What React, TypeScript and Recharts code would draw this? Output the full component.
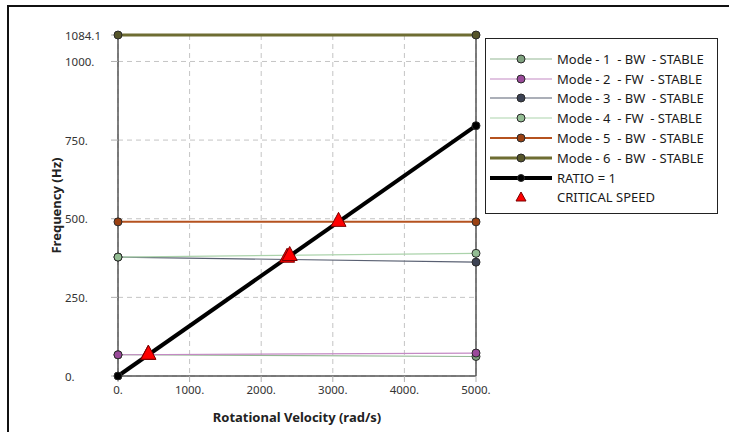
import React from "react";
import {
  ComposedChart,
  Line,
  Scatter,
  XAxis,
  YAxis,
  CartesianGrid,
  ReferenceLine,
} from "recharts";

// rotational speed end points (rad/s)
const speeds = [0, 5000];

// frequency of each mode at the end points (Hz)
const mode1 = [67.5, 62];
const mode2 = [67.5, 73];
const mode3 = [378, 362];
const mode4 = [378, 390];
const mode5 = [490, 490];
const mode6 = [1084.1, 1084.1];
const ratio1 = [0, 795.8];

// critical speed points
const criticalSpeed = [421, 425, 2362, 2398, 3080];
const criticalFreq = [67, 67.6, 376, 381.5, 490];

const xTicks = [0, 1000, 2000, 3000, 4000, 5000];
const yTicks = [0, 250, 500, 750, 1000, 1084.1];

const FONT = "'Noto Sans', sans-serif";

const toPoints = (vals: number[]) => speeds.map((x, i) => ({ x, y: vals[i] }));

const series = [
  { name: "Mode - 1  - BW  - STABLE", data: toPoints(mode1), color: "#93b793", dot: "#7fa27f", width: 1.2 },
  { name: "Mode - 2  - FW  - STABLE", data: toPoints(mode2), color: "#c48ac4", dot: "#9a4a9a", width: 1.2 },
  { name: "Mode - 3  - BW  - STABLE", data: toPoints(mode3), color: "#596072", dot: "#3c4254", width: 1.2 },
  { name: "Mode - 4  - FW  - STABLE", data: toPoints(mode4), color: "#abd3ab", dot: "#93bd93", width: 1.2 },
  { name: "Mode - 5  - BW  - STABLE", data: toPoints(mode5), color: "#b5521f", dot: "#9a4012", width: 2 },
  { name: "Mode - 6  - BW  - STABLE", data: toPoints(mode6), color: "#6e6d32", dot: "#56552a", width: 3 },
  { name: "RATIO = 1", data: toPoints(ratio1), color: "#000000", dot: "#000000", width: 4 },
];

const critical = criticalSpeed.map((x, i) => ({ x, y: criticalFreq[i] }));

const makeDot = (fill: string) => (props: any) => {
  const { cx, cy, index } = props;
  return <circle key={`d-${index}`} cx={cx} cy={cy} r={4} fill={fill} stroke="#2a2a2a" strokeWidth={1} />;
};

const Triangle = (props: any) => {
  const { cx, cy } = props;
  const pts = `${cx},${cy - 9.5} ${cx - 7.5},${cy + 4.5} ${cx + 7.5},${cy + 4.5}`;
  return <polygon points={pts} fill="#ff0000" stroke="#7a0000" strokeWidth={1} />;
};

const fmt = (v: number) => (v === 1084.1 ? "1084.1" : `${v}.`);

const YTick = (props: any) => {
  const { y, payload } = props;
  return (
    <text x={65} y={y} textAnchor="start" dominantBaseline="central" fontSize={11.5} fill="#333" fontFamily={FONT}>
      {fmt(payload.value)}
    </text>
  );
};

// legend drawn as a plain box on top of the chart
const LegendBox = () => (
  <div
    style={{
      position: "absolute",
      left: 485,
      top: 38,
      border: "1px solid #222",
      width: 231,
      padding: "10px 0 6px 0",
      background: "#fff",
      fontFamily: FONT,
      fontSize: 13,
      color: "#1a1a1a",
    }}
  >
    {series.map((s) => (
      <div key={s.name} style={{ display: "flex", alignItems: "center", height: 19.8 }}>
        <svg width={67} height={12} style={{ marginLeft: 4, flexShrink: 0 }}>
          <line x1={0} y1={6} x2={62} y2={6} stroke={s.color} strokeWidth={s.width} />
          <circle cx={31} cy={6} r={s.width >= 4 ? 3.5 : 4} fill={s.dot} stroke="#2a2a2a" strokeWidth={1} />
        </svg>
        <span style={{ whiteSpace: "pre" }}>{s.name}</span>
      </div>
    ))}
    <div style={{ display: "flex", alignItems: "center", height: 19.8 }}>
      <svg width={67} height={12} style={{ marginLeft: 4, flexShrink: 0 }}>
        <polygon points="31,1 26,10 36,10" fill="#ff0000" stroke="#7a0000" strokeWidth={1} />
      </svg>
      <span>CRITICAL SPEED</span>
    </div>
  </div>
);

export default function App() {
  return (
    <div style={{ position: "absolute", left: 0, top: 0, width: 743, height: 432, background: "#fff" }}>
      <ComposedChart
        width={743}
        height={432}
        margin={{ top: 35, right: 267, bottom: 26, left: 58 }}
      >
        <CartesianGrid stroke="#c4c4c4" strokeDasharray="5 4" />
        <XAxis
          type="number"
          dataKey="x"
          domain={[0, 5000]}
          ticks={xTicks}
          interval={0}
          tickFormatter={(v: number) => `${v}.`}
          tick={{ fontSize: 11.5, fill: "#333", fontFamily: FONT, dy: 2 }}
          tickLine={{ stroke: "#b0b0b0" }}
          tickSize={6}
          axisLine={{ stroke: "#555", strokeWidth: 1.5 }}
          height={30}
          label={{
            value: "Rotational Velocity (rad/s)",
            position: "insideBottom",
            offset: -16,
            style: { fontSize: 13, fontWeight: "bold", fill: "#222", fontFamily: FONT },
          }}
        />
        <YAxis
          type="number"
          dataKey="y"
          domain={[0, 1084.1]}
          ticks={yTicks}
          interval={0}
          tick={<YTick />}
          tickLine={{ stroke: "#b0b0b0" }}
          tickSize={7}
          axisLine={{ stroke: "#555", strokeWidth: 1.5 }}
          width={60}
          label={{
            value: "Frequency (Hz)",
            angle: -90,
            position: "insideLeft",
            offset: -2,
            style: { fontSize: 13, fontWeight: "bold", fill: "#222", fontFamily: FONT, textAnchor: "middle" },
          }}
        />
        <ReferenceLine x={5000} stroke="#555" strokeWidth={1.5} />
        {series.map((s) => (
          <Line
            key={s.name}
            data={s.data}
            dataKey="y"
            type="linear"
            stroke={s.color}
            strokeWidth={s.width}
            dot={makeDot(s.dot)}
            activeDot={false}
            isAnimationActive={false}
          />
        ))}
        <Scatter
          name="CRITICAL SPEED"
          data={critical}
          dataKey="y"
          shape={<Triangle />}
          isAnimationActive={false}
        />
      </ComposedChart>
      <LegendBox />
      <div style={{ position: "absolute", left: 7, top: 5, width: 722, height: 2, background: "#111" }} />
      <div style={{ position: "absolute", left: 7, top: 5, width: 2, height: 427, background: "#111" }} />
    </div>
  );
}
